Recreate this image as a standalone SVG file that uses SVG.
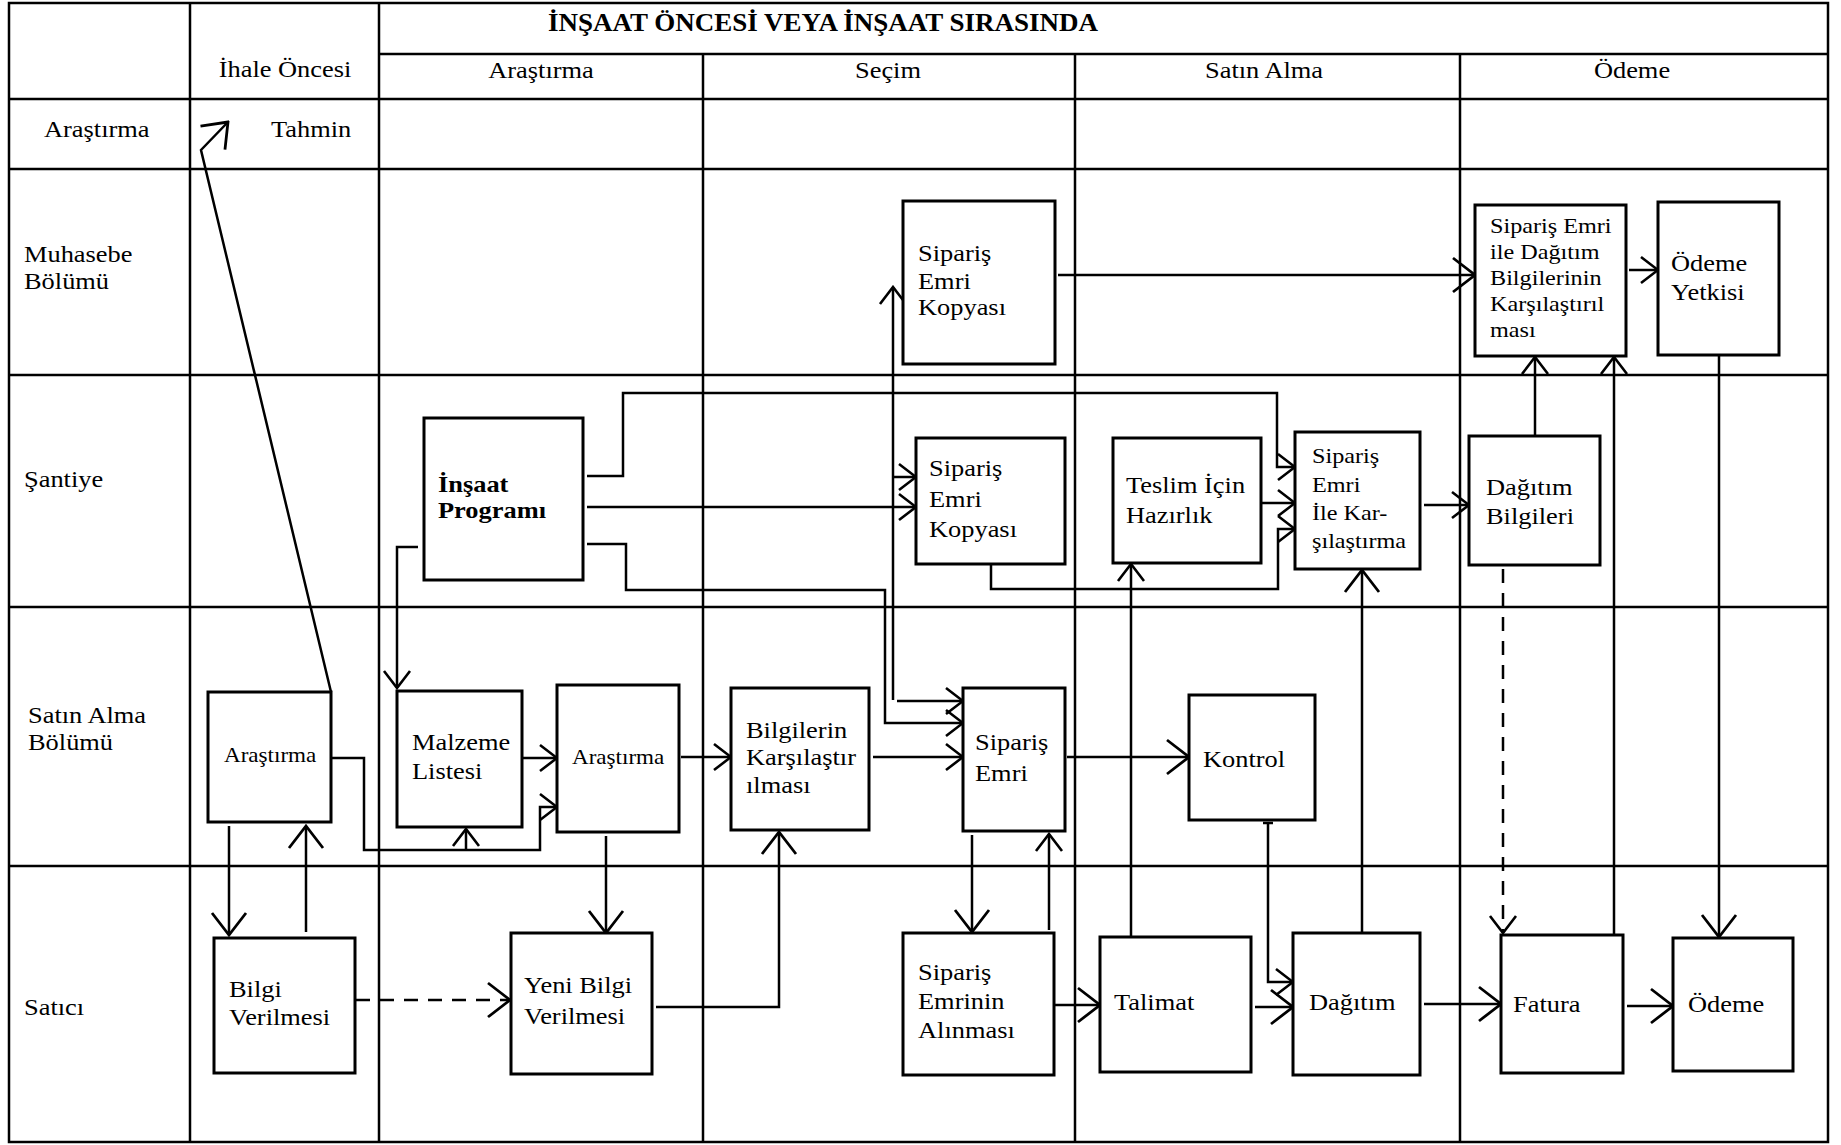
<svg xmlns="http://www.w3.org/2000/svg" width="1841" height="1145" viewBox="0 0 1841 1145">
<style>
.grid{stroke:#000;stroke-width:2.5;fill:none}
.box{stroke:#000;stroke-width:3;fill:#fff}
.c{stroke:#000;stroke-width:2.5;fill:none}
.d{stroke:#000;stroke-width:2.5;fill:none;stroke-dasharray:14 10}
text{font-family:"Liberation Serif","Times New Roman",serif;font-size:24px;fill:#000}
.sm{font-size:22px}
.xs{font-size:21px}
.b{font-weight:bold}
.ttl{font-weight:bold;font-size:25px}
</style>
<defs>
<marker id="a" markerUnits="userSpaceOnUse" viewBox="-22 -16 24 32" refX="0" refY="0" markerWidth="24" markerHeight="32" orient="auto">
<path d="M-17,-13 L0,0 L-17,13" fill="none" stroke="#000" stroke-width="2.6"/>
</marker>
<marker id="b" markerUnits="userSpaceOnUse" viewBox="-26 -20 28 40" refX="0" refY="0" markerWidth="28" markerHeight="40" orient="auto">
<path d="M-22,-17 L0,0 L-22,17" fill="none" stroke="#000" stroke-width="2.8"/>
</marker>
</defs>
<rect width="1841" height="1145" fill="#fff"/>
<g id="grid">
<rect class="grid" x="9" y="3" width="1819" height="1139"/>
<line class="grid" x1="379" y1="54" x2="1828" y2="54"/>
<line class="grid" x1="9" y1="99" x2="1828" y2="99"/>
<line class="grid" x1="9" y1="169" x2="1828" y2="169"/>
<line class="grid" x1="9" y1="375" x2="1828" y2="375"/>
<line class="grid" x1="9" y1="607" x2="1828" y2="607"/>
<line class="grid" x1="9" y1="866" x2="1828" y2="866"/>
<line class="grid" x1="190" y1="3" x2="190" y2="1142"/>
<line class="grid" x1="379" y1="3" x2="379" y2="1142"/>
<line class="grid" x1="703" y1="54" x2="703" y2="1142"/>
<line class="grid" x1="1075" y1="54" x2="1075" y2="1142"/>
<line class="grid" x1="1460" y1="54" x2="1460" y2="1142"/>
</g>
<g id="labels">
<text class="ttl" text-anchor="middle" transform="translate(823,31) scale(1.08,1)">İNŞAAT ÖNCESİ VEYA İNŞAAT SIRASINDA</text>
<text text-anchor="middle" transform="translate(285,77) scale(1.1,1)">İhale Öncesi</text>
<text text-anchor="middle" transform="translate(541,78) scale(1.1,1)">Araştırma</text>
<text text-anchor="middle" transform="translate(888,78) scale(1.1,1)">Seçim</text>
<text text-anchor="middle" transform="translate(1264,78) scale(1.1,1)">Satın Alma</text>
<text text-anchor="middle" transform="translate(1632,78) scale(1.1,1)">Ödeme</text>
<text transform="translate(44,137) scale(1.1,1)">Araştırma</text>
<text transform="translate(271,137) scale(1.1,1)">Tahmin</text>
<text transform="translate(24,262) scale(1.1,1)"><tspan x="0" y="0">Muhasebe</tspan><tspan x="0" y="27">Bölümü</tspan></text>
<text transform="translate(24,487) scale(1.1,1)">Şantiye</text>
<text transform="translate(28,723) scale(1.1,1)"><tspan x="0" y="0">Satın Alma</tspan><tspan x="0" y="27">Bölümü</tspan></text>
<text transform="translate(24,1015) scale(1.1,1)">Satıcı</text>
</g>
<g id="connectors">
<polyline class="c" points="331,692 201,150 228,122" marker-end="url(#b)"/>
<line class="c" x1="229" y1="826" x2="229" y2="935" marker-end="url(#b)"/>
<line class="c" x1="306" y1="932" x2="306" y2="826" marker-end="url(#b)"/>
<polyline class="c" points="331,758 364,758 364,850 540,850 540,807 557,807" marker-end="url(#a)"/>
<line class="c" x1="466" y1="850" x2="466" y2="829" marker-end="url(#a)"/>
<polyline class="c" points="418,547 397,547 397,688" marker-end="url(#a)"/>
<line class="c" x1="523" y1="758" x2="557" y2="758" marker-end="url(#a)"/>
<line class="c" x1="606" y1="836" x2="606" y2="933" marker-end="url(#b)"/>
<line class="d" x1="356" y1="1000" x2="510" y2="1000" marker-end="url(#b)"/>
<polyline class="c" points="656,1007 779,1007 779,832" marker-end="url(#b)"/>
<line class="c" x1="681" y1="757" x2="731" y2="757" marker-end="url(#a)"/>
<line class="c" x1="873" y1="757" x2="963" y2="757" marker-end="url(#a)"/>
<polyline class="c" points="587,476 623,476 623,393 1277,393 1277,467 1295,467" marker-end="url(#a)"/>
<line class="c" x1="587" y1="507" x2="916" y2="507" marker-end="url(#a)"/>
<polyline class="c" points="587,544 626,544 626,590 885,590 885,723 963,723" marker-end="url(#a)"/>
<line class="c" x1="893" y1="700" x2="893" y2="287" marker-end="url(#a)"/>
<line class="c" x1="893" y1="477" x2="916" y2="477" marker-end="url(#a)"/>
<line class="c" x1="897" y1="701" x2="963" y2="701" marker-end="url(#a)"/>
<line class="c" x1="1058" y1="275" x2="1475" y2="275" marker-end="url(#b)"/>
<line class="c" x1="1629" y1="270" x2="1658" y2="270" marker-end="url(#a)"/>
<line class="c" x1="1719" y1="355" x2="1719" y2="937" marker-end="url(#b)"/>
<polyline class="c" points="991,564 991,589 1278,589 1278,529 1295,529" marker-end="url(#a)"/>
<line class="c" x1="1261" y1="503" x2="1295" y2="503" marker-end="url(#a)"/>
<line class="c" x1="1131" y1="937" x2="1131" y2="564" marker-end="url(#a)"/>
<line class="c" x1="1362" y1="933" x2="1362" y2="570" marker-end="url(#b)"/>
<line class="c" x1="1424" y1="505" x2="1469" y2="505" marker-end="url(#a)"/>
<line class="c" x1="1535" y1="436" x2="1535" y2="357" marker-end="url(#a)"/>
<line class="d" x1="1503" y1="569" x2="1503" y2="933" marker-end="url(#a)"/>
<line class="c" x1="1614" y1="935" x2="1614" y2="357" marker-end="url(#a)"/>
<line class="c" x1="972" y1="835" x2="972" y2="932" marker-end="url(#b)"/>
<line class="c" x1="1049" y1="930" x2="1049" y2="834" marker-end="url(#a)"/>
<line class="c" x1="1067" y1="757" x2="1189" y2="757" marker-end="url(#b)"/>
<polyline class="c" points="1268,822 1268,982 1293,982" marker-end="url(#a)"/>
<line class="c" x1="1263" y1="823" x2="1273" y2="823"/>
<line class="c" x1="1055" y1="1005" x2="1100" y2="1005" marker-end="url(#b)"/>
<line class="c" x1="1255" y1="1007" x2="1293" y2="1007" marker-end="url(#b)"/>
<line class="c" x1="1424" y1="1004" x2="1501" y2="1004" marker-end="url(#b)"/>
<line class="c" x1="1627" y1="1006" x2="1673" y2="1006" marker-end="url(#b)"/>
</g>
<g id="n-muh-sek"><rect class="box" x="903" y="201" width="152" height="163"/><text transform="translate(918,261) scale(1.1,1)"><tspan x="0" y="0">Sipariş</tspan><tspan x="0" y="28">Emri</tspan><tspan x="0" y="54">Kopyası</tspan></text></g>
<g id="n-sedb"><rect class="box" x="1475" y="205" width="151" height="151"/><text class="sm" transform="translate(1490,233) scale(1.1,1)"><tspan x="0" y="0">Sipariş Emri</tspan><tspan x="0" y="26">ile Dağıtım</tspan><tspan x="0" y="52">Bilgilerinin</tspan><tspan x="0" y="78">Karşılaştırıl</tspan><tspan x="0" y="104">ması</tspan></text></g>
<g id="n-odeme-yetkisi"><rect class="box" x="1658" y="202" width="121" height="153"/><text transform="translate(1671,271) scale(1.1,1)"><tspan x="0" y="0">Ödeme</tspan><tspan x="0" y="29">Yetkisi</tspan></text></g>
<g id="n-insaat-programi"><rect class="box" x="424" y="418" width="159" height="162"/><text class="b" transform="translate(438,492) scale(1.1,1)"><tspan x="0" y="0">İnşaat</tspan><tspan x="0" y="26">Programı</tspan></text></g>
<g id="n-san-sek"><rect class="box" x="916" y="438" width="149" height="126"/><text transform="translate(929,476) scale(1.1,1)"><tspan x="0" y="0">Sipariş</tspan><tspan x="0" y="31">Emri</tspan><tspan x="0" y="61">Kopyası</tspan></text></g>
<g id="n-teslim"><rect class="box" x="1113" y="438" width="148" height="125"/><text transform="translate(1126,493) scale(1.1,1)"><tspan x="0" y="0">Teslim İçin</tspan><tspan x="0" y="30">Hazırlık</tspan></text></g>
<g id="n-seik"><rect class="box" x="1295" y="432" width="125" height="137"/><text class="sm" transform="translate(1312,463) scale(1.1,1)"><tspan x="0" y="0">Sipariş</tspan><tspan x="0" y="29">Emri</tspan><tspan x="0" y="57">İle Kar-</tspan><tspan x="0" y="85">şılaştırma</tspan></text></g>
<g id="n-dagitim-bilgileri"><rect class="box" x="1469" y="436" width="131" height="129"/><text transform="translate(1486,495) scale(1.1,1)"><tspan x="0" y="0">Dağıtım</tspan><tspan x="0" y="29">Bilgileri</tspan></text></g>
<g id="n-arastirma1"><rect class="box" x="208" y="692" width="123" height="130"/><text class="xs" transform="translate(224,762) scale(1.1,1)">Araştırma</text></g>
<g id="n-malzeme"><rect class="box" x="397" y="691" width="125" height="136"/><text transform="translate(412,750) scale(1.1,1)"><tspan x="0" y="0">Malzeme</tspan><tspan x="0" y="29">Listesi</tspan></text></g>
<g id="n-arastirma2"><rect class="box" x="557" y="685" width="122" height="147"/><text class="xs" transform="translate(572,764) scale(1.1,1)">Araştırma</text></g>
<g id="n-bilgilerin"><rect class="box" x="731" y="688" width="138" height="142"/><text transform="translate(746,738) scale(1.1,1)"><tspan x="0" y="0">Bilgilerin</tspan><tspan x="0" y="27">Karşılaştır</tspan><tspan x="0" y="55">ılması</tspan></text></g>
<g id="n-siparis-emri"><rect class="box" x="963" y="688" width="102" height="143"/><text transform="translate(975,750) scale(1.1,1)"><tspan x="0" y="0">Sipariş</tspan><tspan x="0" y="31">Emri</tspan></text></g>
<g id="n-kontrol"><rect class="box" x="1189" y="695" width="126" height="125"/><text transform="translate(1203,767) scale(1.1,1)">Kontrol</text></g>
<g id="n-bilgi-verilmesi"><rect class="box" x="214" y="938" width="141" height="135"/><text transform="translate(229,997) scale(1.1,1)"><tspan x="0" y="0">Bilgi</tspan><tspan x="0" y="28">Verilmesi</tspan></text></g>
<g id="n-yeni-bilgi"><rect class="box" x="511" y="933" width="141" height="141"/><text transform="translate(524,993) scale(1.1,1)"><tspan x="0" y="0">Yeni Bilgi</tspan><tspan x="0" y="31">Verilmesi</tspan></text></g>
<g id="n-sea"><rect class="box" x="903" y="933" width="151" height="142"/><text transform="translate(918,980) scale(1.1,1)"><tspan x="0" y="0">Sipariş</tspan><tspan x="0" y="29">Emrinin</tspan><tspan x="0" y="58">Alınması</tspan></text></g>
<g id="n-talimat"><rect class="box" x="1100" y="937" width="151" height="135"/><text transform="translate(1114,1010) scale(1.1,1)">Talimat</text></g>
<g id="n-dagitim"><rect class="box" x="1293" y="933" width="127" height="142"/><text transform="translate(1309,1010) scale(1.1,1)">Dağıtım</text></g>
<g id="n-fatura"><rect class="box" x="1501" y="935" width="122" height="138"/><text transform="translate(1513,1012) scale(1.1,1)">Fatura</text></g>
<g id="n-odeme"><rect class="box" x="1673" y="938" width="120" height="133"/><text transform="translate(1688,1012) scale(1.1,1)">Ödeme</text></g>
</svg>
